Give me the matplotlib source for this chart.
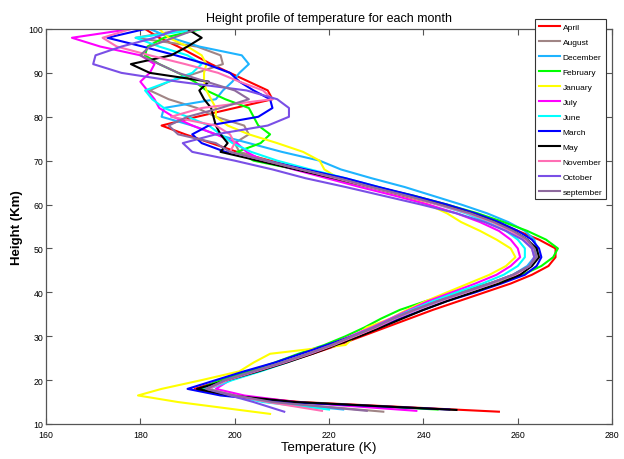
import matplotlib
matplotlib.use("Agg")
import matplotlib.pyplot as plt

plt.rcParams['font.family'] = ['Liberation Sans', 'DejaVu Sans']

# common height grid (km) above the tropopause end points
heights = [15, 16.5, 18, 20, 22, 24, 26, 28, 30, 32, 34, 36, 38, 40, 42, 44, 46, 48,
           50, 52, 54, 56, 58, 60, 62, 64, 66, 68, 70, 72, 74, 76, 78, 80, 82, 84,
           86, 88, 90, 92, 94, 96, 98, 100]

months = ['April', 'August', 'December', 'February', 'January', 'July', 'June',
          'March', 'May', 'November', 'October', 'september']

colors = ['#ff0000', '#a08585', '#1eb4ff', '#00ff00', '#ffff00', '#ff00ff',
          '#00ffff', '#0000ff', '#000000', '#ff6eb4', '#7a4fe6', '#8e6a9e']

# lowest point of each profile (temperature K, height km)
end_t = [256, 231.5, 223, 243, 207.5, 238.5, 220, 245.5, 247, 218.5, 210.5, 228]
end_h = [12.8, 12.8, 13.3, 13.3, 12.3, 13.0, 13.3, 13.3, 13.2, 13.0, 12.8, 13.0]

april = [214, 199, 191.5, 197.5, 204, 210.5, 216.5, 222, 227, 232, 237, 242, 247.5, 253,
         258.5, 263, 266.5, 268, 268, 264.5, 260, 255.5, 250.5, 244.5, 237.5, 230, 222.5,
         215, 207.5, 200.5, 195, 189.5, 184.5, 192, 200, 208, 207, 203, 199, 195, 191.5,
         188, 184, 181]
august = [208, 200, 194, 198, 204, 210, 215.5, 220.5, 225, 229.5, 233.5, 238, 243, 248.5,
          254, 259, 262.5, 264, 263.5, 262, 259, 255, 250, 243.5, 236.5, 229, 222, 214.5,
          207, 201, 200, 203, 202, 196, 192, 186, 182, 186, 192, 197.5, 197, 192, 179, 190]
december = [207, 199, 193.5, 198.5, 204.5, 210, 215.5, 220.5, 225, 229.5, 234, 238.5,
            243.5, 249, 254.5, 259, 262, 263.5, 264, 263.5, 261.5, 258, 253.5, 248, 242,
            236, 229, 222.5, 218, 210, 203, 196, 191, 184.5, 185, 196, 197.5, 199.5, 201,
            203, 201.5, 192.5, 186.5, 182]
february = [212, 199, 192.5, 197, 203, 208.5, 213.5, 219, 223.5, 227.5, 231, 235, 240.5,
            247, 254, 261, 265, 267.5, 268.5, 266, 262, 257, 251.5, 245, 238, 230, 222,
            213, 204, 200.5, 205.5, 207.5, 205, 204, 203, 198, 194, 191.5, 188, 184, 181,
            181.5, 185, 193]
january = [188, 179.5, 184.5, 193, 201, 204, 207.5, 223.5, 225.5, 228, 233, 236.5, 240.5,
           245, 249.5, 254, 257.5, 259.5, 258.5, 255.5, 252, 248, 245, 241, 235.5, 229.5,
           222, 219, 218, 214.5, 209, 203, 198.5, 196, 196, 195, 194, 193.5, 193.5, 194,
           193, 190, 186, 184]
july = [213, 202, 196, 199, 205, 210.5, 215.5, 220, 224.5, 229, 233, 237, 241, 246, 251,
        255.5, 258.5, 260.5, 260, 258.5, 256, 252, 247, 241, 234, 226.5, 219.5, 212.5, 206,
        202.5, 200.5, 196, 191, 187, 184, 183, 181.5, 180, 182, 183, 180, 171.5, 165.5, 178]
june = [206, 199.5, 194.5, 199.5, 205.5, 211, 216, 220.5, 225, 229.5, 233.5, 237.5, 242,
        247, 252.5, 257, 260, 261.5, 261.5, 260, 257.5, 253.5, 249, 243, 237, 230.5, 223.5,
        216, 209, 203.5, 199.5, 197, 194.5, 190, 185, 182.5, 181, 186, 191, 193, 190, 184,
        179, 193]
march = [211, 197, 190, 196, 202, 208.5, 214, 219.5, 225, 230, 235, 240, 245, 251, 256.5,
         261.5, 264, 265, 264.5, 263, 260, 256, 251, 245, 238, 230.5, 223.5, 215, 206.5,
         198, 193, 191, 194.5, 205, 208, 207.5, 204, 201, 199, 194, 187.5, 180.5, 173, 181]
may = [213, 199, 192, 198.5, 205, 211, 216.5, 221.5, 226.5, 231, 235.5, 240, 245, 250.5,
       256, 260.5, 263, 264.5, 264, 262, 259, 255, 250, 243.5, 236, 228.5, 221, 213, 205,
       197, 198.5, 197, 196, 195.5, 195, 193.5, 192.5, 194.5, 182, 178, 186.5, 190, 193, 190]
november = [207, 200, 194.5, 198.5, 204.5, 210.5, 216, 221, 225.5, 230, 234, 238.5, 243.5,
            249, 254.5, 259.5, 262.5, 263.5, 263, 261.5, 258.5, 254.5, 249.5, 243, 236,
            228.5, 221.5, 214, 206.5, 199, 200, 199, 196, 186.5, 193, 208, 206, 201, 196.5,
            189.5, 182, 175, 172, 178]
october = [204, 199, 194, 198, 204, 210, 215.5, 220.5, 225, 229.5, 233.5, 238, 243, 248.5,
           254, 259, 262.5, 263.5, 263, 261, 257.5, 253, 247, 239.5, 231.5, 223.5, 215, 208,
           200, 191, 189, 196, 207, 211.5, 211.5, 209, 202.5, 188, 176, 170, 170.5, 176, 183,
           188]
september = [208, 200, 194, 198, 204, 210, 215.5, 220.5, 225, 229.5, 233.5, 238, 243,
             248.5, 254, 259, 262.5, 264, 263.5, 262, 259, 255, 250, 243.5, 236.5, 229, 222,
             214, 206.5, 199, 196, 188, 186, 190, 197, 203, 200, 194, 188, 184, 180, 182,
             187, 192]

profiles = [april, august, december, february, january, july, june, march, may,
            november, october, september]

fig = plt.figure(figsize=(6.24, 4.60), dpi=100)
ax = fig.add_axes([0.0737, 0.0761, 0.9073, 0.8587])

for name, col, t0, h0, temps in zip(months, colors, end_t, end_h, profiles):
    ax.plot([t0] + temps, [h0] + heights, color=col, lw=1.5, label=name)

ax.set_xlim(160, 280)
ax.set_ylim(10, 100)
ax.set_xticks(range(160, 281, 20))
ax.set_yticks(range(10, 101, 10))
ax.tick_params(direction='in', top=True, right=True, labelsize=6.3, length=4,
               width=0.8, color='#555555')
ax.tick_params(axis='x', pad=4)
ax.tick_params(axis='y', pad=2)
for s in ax.spines.values():
    s.set_color('#555555')
    s.set_linewidth(0.9)

ax.set_title('Height profile of temperature for each month', fontsize=9, pad=6)
ax.set_xlabel('Temperature (K)', fontsize=9.5, labelpad=2)
ax.set_ylabel('Height (Km)', fontsize=9.5, fontweight='bold', labelpad=4)

leg = ax.legend(loc='upper left', bbox_to_anchor=(535 / 624, 1 - 20 / 460),
                bbox_transform=fig.transFigure, fontsize=6.0, handlelength=2.6,
                handletextpad=0.25, labelspacing=0.86, borderpad=0.45,
                fancybox=False, framealpha=1, edgecolor='#333333',
                borderaxespad=0)
leg.get_frame().set_linewidth(0.8)

fig.savefig('out.png', dpi=100)
